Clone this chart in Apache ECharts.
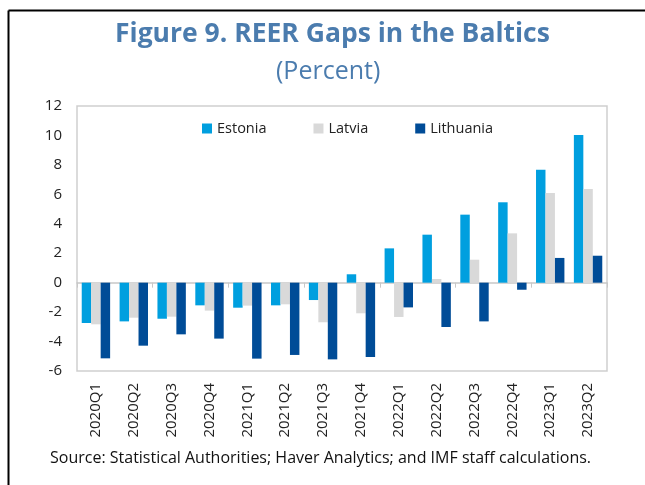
<!DOCTYPE html>
<html>
<head>
<meta charset="utf-8">
<script src="https://cdn.jsdelivr.net/npm/echarts@6/dist/echarts.min.js"></script>
<style>
  html, body { margin: 0; padding: 0; background: #fff; }
  #chart { width: 645px; height: 485px; }
</style>
</head>
<body>
<div id="chart"></div>
<script>
const quarters = ['2020Q1', '2020Q2', '2020Q3', '2020Q4', '2021Q1', '2021Q2', '2021Q3',
  '2021Q4', '2022Q1', '2022Q2', '2022Q3', '2022Q4', '2023Q1', '2023Q2'];
const estonia = [-2.74, -2.63, -2.45, -1.54, -1.70, -1.54, -1.18, 0.57, 2.33, 3.26, 4.62, 5.46, 7.67, 10.03];
const latvia = [-2.83, -2.38, -2.31, -1.90, -1.56, -1.47, -2.69, -2.08, -2.33, 0.25, 1.56, 3.35, 6.09, 6.36];
const lithuania = [-5.14, -4.28, -3.51, -3.80, -5.16, -4.91, -5.21, -5.05, -1.68, -3.01, -2.63, -0.48, 1.68, 1.83];

const font = "'Open Sans', 'Noto Sans', sans-serif";
const titleColor = '#4b7cae';

const chart = echarts.init(document.getElementById('chart'));

const option = {
  animation: false,
  textStyle: { fontFamily: font },
  title: [
    {
      text: 'Figure 9. REER Gaps in the Baltics',
      left: 110, top: 16,
      textStyle: { fontFamily: font, fontSize: 26.5, fontWeight: 'bold', color: titleColor }
    },
    {
      text: '(Percent)',
      left: 271, top: 54,
      textStyle: { fontFamily: font, fontSize: 25, fontWeight: 'normal', color: titleColor }
    },
    {
      text: 'Source: Statistical Authorities; Haver Analytics; and IMF staff calculations.',
      left: 50, top: 450, padding: 0,
      textStyle: { fontFamily: font, fontSize: 16, fontWeight: 'normal', color: '#111' }
    }
  ],
  legend: {
    top: 121, left: 202, padding: 0,
    itemWidth: 10, itemHeight: 10, itemGap: 47,
    icon: 'rect',
    textStyle: { fontFamily: font, fontSize: 14.5, color: '#222' }
  },
  grid: {
    left: 77, top: 106, right: 38, bottom: 114,
    show: true, borderColor: '#cfcfcf', borderWidth: 1.5,
    containLabel: false
  },
  xAxis: [
    {
      type: 'category', data: quarters,
      position: 'bottom',
      axisLine: { show: false, onZero: false },
      axisTick: { show: false },
      axisLabel: { rotate: 90, fontSize: 15, color: '#222', margin: 12 }
    },
    {
      type: 'category', data: quarters,
      axisLine: { onZero: true, lineStyle: { color: '#c8c8c8', width: 1.5 } },
      axisTick: { show: true, inside: true, length: 5, lineStyle: { color: '#c8c8c8' } },
      axisLabel: { show: false }
    }
  ],
  yAxis: {
    type: 'value', min: -6, max: 12, interval: 2,
    axisLine: { show: false },
    axisTick: { show: false },
    splitLine: { show: false },
    axisLabel: { fontSize: 15, color: '#222', margin: 15 }
  },
  series: [
    { name: 'Estonia', type: 'bar', data: estonia, itemStyle: { color: '#009fdf' },
      barGap: '0%', barCategoryGap: '25%' },
    { name: 'Latvia', type: 'bar', data: latvia, itemStyle: { color: '#d9d9d9' } },
    { name: 'Lithuania', type: 'bar', data: lithuania, itemStyle: { color: '#004c97' } }
  ],
  graphic: [
    { type: 'line', shape: { x1: 8.5, y1: 10.5, x2: 645, y2: 10.5 }, style: { stroke: '#000', lineWidth: 2 } },
    { type: 'line', shape: { x1: 8.5, y1: 10.5, x2: 8.5, y2: 485 }, style: { stroke: '#000', lineWidth: 2 } }
  ]
};

chart.setOption(option);
window.addEventListener('resize', () => chart.resize());
</script>
</body>
</html>
